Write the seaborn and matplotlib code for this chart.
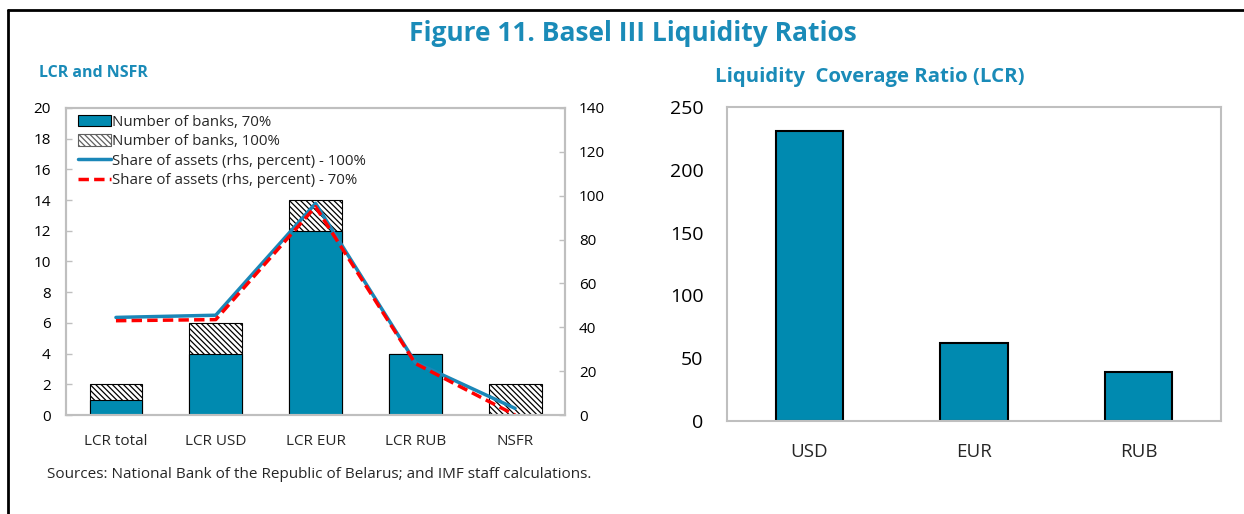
import numpy as np
import pandas as pd
import seaborn as sns
import matplotlib.pyplot as plt
from matplotlib.patches import Patch
from matplotlib.lines import Line2D

# left panel data
cats = ['LCR total', 'LCR USD', 'LCR EUR', 'LCR RUB', 'NSFR']
banks_70 = [1, 4, 12, 4, 0]
banks_100 = [2, 6, 14, 4, 2]
share_100 = [44.5, 45.5, 96.5, 24, 3]
share_70 = [43, 43.5, 95, 23.5, 0]

# right panel data
lcr_cats = ['USD', 'EUR', 'RUB']
lcr_vals = [231, 62, 39]

BLUE = '#008AB0'
TITLE = '#1A8BB8'
SPINE = '#BFBFBF'
HATCH = '\\\\\\\\\\\\'

sns.set_theme(style='white')
plt.rcParams['font.family'] = ['Open Sans', 'DejaVu Sans']
plt.rcParams['hatch.color'] = '#606060'
plt.rcParams['hatch.linewidth'] = 0.9

fig = plt.figure(figsize=(12.44, 5.14), dpi=100)


def style_axes(ax, size):
    for s in ax.spines.values():
        s.set_color(SPINE)
        s.set_linewidth(1.5)
    ax.tick_params(axis='both', direction='in', length=4, color=SPINE,
                   labelsize=size, labelcolor='black', width=1)
    ax.set_xlabel('')
    ax.set_ylabel('')


# ---- left: LCR and NSFR
ax = fig.add_axes([0.0531, 0.1926, 0.4011, 0.5973])
df = pd.DataFrame({'cat': cats, 'b70': banks_70, 'b100': banks_100})
sns.barplot(data=df, x='cat', y='b100', ax=ax, color='white',
            edgecolor='black', linewidth=0.8, width=0.53, saturation=1)
for p in ax.patches:
    p.set_hatch(HATCH)
sns.barplot(data=df, x='cat', y='b70', ax=ax, color=BLUE,
            edgecolor='black', linewidth=0.8, width=0.53, saturation=1)
ax.set_ylim(0, 20)
ax.set_yticks(np.arange(0, 21, 2))
ax.set_xlim(-0.5, len(cats) - 0.5)
ax.set_xticks(np.arange(-0.5, len(cats), 1), minor=False)
ax.set_xticklabels([])
ax.set_xticks(range(len(cats)), minor=True)
ax.set_xticklabels(cats, minor=True)
style_axes(ax, 11)
ax.tick_params(axis='y', pad=11)
ax.tick_params(axis='x', which='minor', length=0, pad=14, labelsize=11)

ax2 = ax.twinx()
xs = np.arange(len(cats))
sns.lineplot(x=xs, y=share_100, ax=ax2, color='#1A87B8', lw=2.5)
sns.lineplot(x=xs, y=share_70, ax=ax2, color='#FF0000', lw=2.5,
             linestyle=(0, (3, 1.5)))
ax2.set_ylim(0, 140)
ax2.set_yticks(np.arange(0, 141, 20))
style_axes(ax2, 11)
ax2.tick_params(axis='y', pad=10)

handles = [
    Patch(facecolor=BLUE, edgecolor='black', linewidth=0.8),
    Patch(facecolor='white', edgecolor='#606060', hatch=HATCH, linewidth=0.8),
    Line2D([], [], color='#1A87B8', lw=2.5),
    Line2D([], [], color='#FF0000', lw=2.5, linestyle=(0, (3, 1.5))),
]
labels = ['Number of banks, 70%', 'Number of banks, 100%',
          'Share of assets (rhs, percent) - 100%',
          'Share of assets (rhs, percent) - 70%']
ax2.legend(handles, labels, loc='upper left', frameon=False, fontsize=10.8,
           handlelength=2.2, handleheight=0.8, handletextpad=0.1,
           labelspacing=0.3, borderaxespad=0.05,
           bbox_to_anchor=(0.01, 1.0))

# ---- right: LCR
axr = fig.add_axes([0.5844, 0.1809, 0.3971, 0.6109])
dfr = pd.DataFrame({'cur': lcr_cats, 'lcr': lcr_vals})
sns.barplot(data=dfr, x='cur', y='lcr', ax=axr, color=BLUE,
            edgecolor='black', linewidth=1.5, width=0.41, saturation=1)
axr.set_ylim(0, 250)
axr.set_yticks(np.arange(0, 251, 50))
axr.set_xlim(-0.5, len(lcr_cats) - 0.5)
axr.set_xticks(np.arange(-0.5, len(lcr_cats), 1))
axr.set_xticklabels([])
axr.set_xticks(range(len(lcr_cats)), minor=True)
axr.set_xticklabels(lcr_cats, minor=True)
style_axes(axr, 14)
axr.tick_params(axis='y', pad=17)
axr.tick_params(axis='x', which='minor', length=0, pad=16, labelsize=13.5)

# ---- texts
fig.text(0.509, 0.935, 'Figure 11. Basel III Liquidity Ratios', ha='center',
         va='center', fontsize=19, fontweight='bold', color=TITLE)
fig.text(0.031, 0.858, 'LCR and NSFR', ha='left', va='center',
         fontsize=11.5, fontweight='bold', color=TITLE)
fig.text(0.575, 0.85, 'Liquidity  Coverage Ratio (LCR)', ha='left',
         va='center', fontsize=14.7, fontweight='bold', color=TITLE)
fig.text(0.038, 0.077, 'Sources: National Bank of the Republic of Belarus; '
         'and IMF staff calculations.', ha='left', va='center', fontsize=11)

# black frame on top and left
fig.add_artist(Line2D([8 / 1244, 1], [1 - 10 / 514] * 2, color='black',
                      lw=2, transform=fig.transFigure))
fig.add_artist(Line2D([8 / 1244] * 2, [0, 1 - 10 / 514], color='black',
                      lw=2, transform=fig.transFigure))

fig.savefig('out.png', dpi=100)
